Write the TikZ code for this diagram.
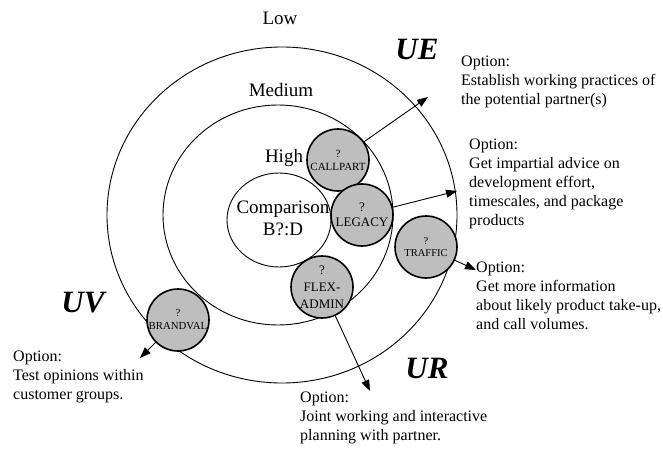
\documentclass[tikz,border=0pt]{standalone}
\usepackage{fontspec}
\setmainfont{Liberation Serif}
\usetikzlibrary{arrows.meta}
\definecolor{factorgray}{RGB}{190,190,190}
\begin{document}
\begin{tikzpicture}[x=1pt,y=-1pt,
  ring/.style={draw=black, line width=0.9pt},
  factor/.style={circle, draw=black, line width=1.6pt, fill=factorgray, minimum size=62pt, inner sep=0pt, align=center},
  arr/.style={-{Triangle[length=11pt,width=8pt]}, line width=0.9pt},
  optiontext/.style={anchor=north west, inner sep=0pt, align=left, font=\fontsize{16}{19}\selectfont},
  ringlabel/.style={inner sep=0pt, font=\fontsize{19}{22}\selectfont},
  quadrant/.style={inner sep=0pt, font=\fontsize{31}{34}\selectfont\bfseries\itshape}]
\useasboundingbox (0,0) rectangle (663,449);

% rings
\draw[ring] (282,215) ellipse [x radius=175pt, y radius=168pt];
\draw[ring] (278,215) ellipse [x radius=115pt, y radius=110pt];
\draw[ring] (279,220) ellipse [x radius=52pt, y radius=47pt];

% ring labels
\node[ringlabel, anchor=base] (low) at (280,25) {Low};
\node[ringlabel, anchor=base] (medium) at (281,97) {Medium};
\node[ringlabel, anchor=base] (high) at (284,163) {High};
\node[ringlabel, align=center] (comparison) at (283,218) {Comparison\\B?:D};

% quadrant labels
\node[quadrant] (ue) at (417,49) {UE};
\node[quadrant] (ur) at (427,368) {UR};
\node[quadrant] (uv) at (83,303) {UV};

% factors
\node[factor, font=\fontsize{11}{13}\selectfont] (callpart) at (338,160) {?\\CALLPART};
\node[factor, font=\fontsize{13}{15}\selectfont] (legacy) at (362,215) {?\\LEGACY};
\node[factor, font=\fontsize{10.5}{12}\selectfont] (traffic) at (426,247) {?\\TRAFFIC};
\node[factor, font=\fontsize{13}{17}\selectfont] (flexadmin) at (322,287) {?\\FLEX-\\ADMIN};
\node[factor, font=\fontsize{10.8}{13}\selectfont] (brandval) at (178,320) {?\\BRANDVAL};

% option texts
\node[optiontext] (opt1) at (461,56) {Option:\\Establish working practices of\\the potential partner(s)};
\node[optiontext] (opt2) at (469,139) {Option:\\Get impartial advice on\\development effort,\\timescales, and package\\products};
\node[optiontext] (opt3) at (476,262) {Option:\\Get more information\\about likely product take-up,\\and call volumes.};
\node[optiontext] (opt4) at (300,392) {Option:\\Joint working and interactive\\planning with partner.};
\node[optiontext] (opt5) at (13,351) {Option:\\Test opinions within\\customer groups.};

% arrow ends
\coordinate (tipue) at (428,97);
\coordinate (tipdev) at (457,191);
\coordinate (tiptraffic) at (476,270);
\coordinate (tipjoint) at (370,391);
\coordinate (tiptest) at (140,358);

\draw[arr] (callpart) -- (tipue);
\draw[arr] (legacy) -- (tipdev);
\draw[arr] (traffic) -- (tiptraffic);
\draw[arr] (flexadmin) -- (tipjoint);
\draw[arr] (brandval) -- (tiptest);
\end{tikzpicture}
\end{document}
